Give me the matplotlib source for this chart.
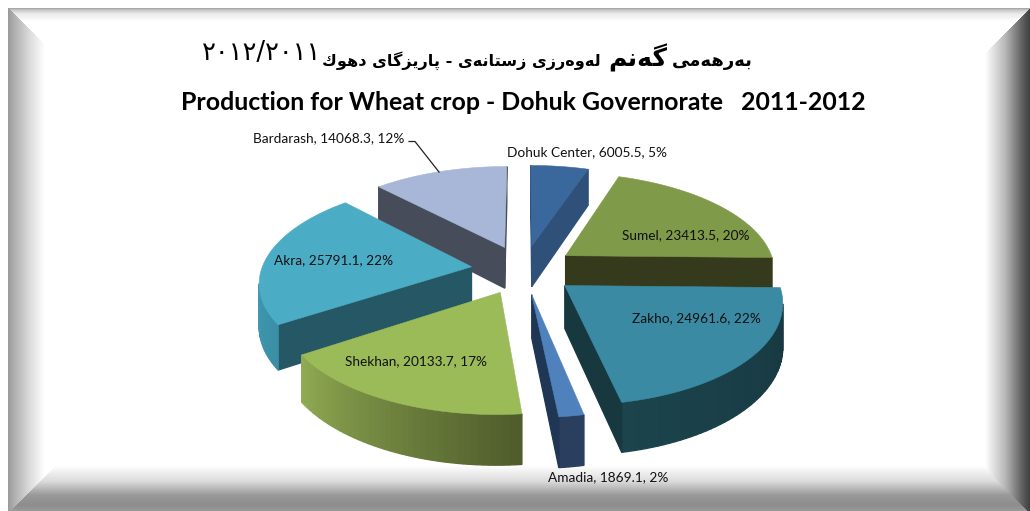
import numpy as np
import matplotlib
matplotlib.use("Agg")
import matplotlib.pyplot as plt
from matplotlib.patches import Polygon
from matplotlib.colors import to_rgb

# ---- data ----
districts = ["Dohuk Center", "Sumel", "Zakho", "Amadia", "Shekhan", "Akra", "Bardarash"]
production = [6005.5, 23413.5, 24961.6, 1869.1, 20133.7, 25791.1, 14068.3]
percent_labels = ["5%", "20%", "22%", "2%", "17%", "22%", "12%"]
top_colors = ["#3B689C", "#7F9A48", "#3A8AA3", "#4F81BD", "#9BBB59", "#4BACC6", "#A8B7D7"]
radial_colors = ["#2E5079", "#363A1C", "#17383F", "#1F3655", "#4F5C2B", "#265764", "#464C59"]
arc_start_colors = ["#2E5079", "#363A1C", "#17363F", "#2A3E5E", "#4F5C2B", "#3A8FA6", "#464C59"]
arc_end_colors = ["#2E5079", "#363A1C", "#1B444D", "#2A3E5E", "#8FAA52", "#4BACC6", "#464C59"]
title_en = "Production for Wheat crop - Dohuk Governorate   2011-2012"
title_ku_a = "بەرهەمی"
title_ku_b = "گەنم"
title_ku_c = "لەوەرزی زستانەی - پارێزگای دهوك"
title_ku_d = "٢٠١٢/٢٠١١"

plt.rcParams["font.family"] = ["Lato", "DejaVu Sans"]

# ---- small shaper: logical Kurdish text -> presentation forms in visual order ----
FORMS = {
    "ب": "\uFE8F\uFE90\uFE91\uFE92", "پ": "\uFB56\uFB57\uFB58\uFB59",
    "ت": "\uFE95\uFE96\uFE97\uFE98", "س": "\uFEB1\uFEB2\uFEB3\uFEB4",
    "ک": "\uFED9\uFEDA\uFEDB\uFEDC", "ك": "\uFED9\uFEDA\uFEDB\uFEDC",
    "گ": "\uFB92\uFB93\uFB94\uFB95", "ل": "\uFEDD\uFEDE\uFEDF\uFEE0",
    "م": "\uFEE1\uFEE2\uFEE3\uFEE4", "ن": "\uFEE5\uFEE6\uFEE7\uFEE8",
    "ه": "\uFEE9\uFEEA\uFEEB\uFEEC", "ی": "\uFBFC\uFBFD\uFBFE\uFBFF",
    "ێ": "\uFBFC\uFBFD\uFBFE\uFBFF",
    "ا": "\uFE8D\uFE8E", "د": "\uFEA9\uFEAA", "ر": "\uFEAD\uFEAE",
    "ز": "\uFEAF\uFEB0", "و": "\uFEED\uFEEE", "ە": "\uFEE9\uFEEA",
}


def shape(text):
    out = []
    for i, ch in enumerate(text):
        forms = FORMS.get(ch)
        if forms is None:
            out.append(ch)
            continue
        prev = text[i - 1] if i else ""
        nxt = text[i + 1] if i + 1 < len(text) else ""
        joins_prev = prev in FORMS and len(FORMS[prev]) == 4
        joins_next = nxt in FORMS and len(forms) == 4
        if joins_prev and joins_next:
            out.append(forms[3])
        elif joins_next:
            out.append(forms[2])
        elif joins_prev:
            out.append(forms[1])
        else:
            out.append(forms[0])
    return "".join(reversed(out))


W, H = 1030, 511
fig = plt.figure(figsize=(W / 100, H / 100), dpi=100, facecolor="white")
ax = fig.add_axes([0, 0, 1, 1])
ax.set_xlim(0, W)
ax.set_ylim(H, 0)
ax.axis("off")

# ---- bevelled frame ----
x0, y0 = 8, 8
yy, xx = np.mgrid[0:H, 0:W] + 0.5
dl, dt, dr, db = xx - x0, yy - y0, W - xx, H + 2 - yy
left = np.interp(dl, [0, 6, 20, 37], [0.60, 0.68, 0.84, 1.0])
top = np.interp(dt, [0, 2, 6, 14, 37], [0.62, 0.78, 0.92, 1.0, 1.0])
right = np.interp(dr, [0, 8, 25, 45], [0.25, 0.38, 0.72, 1.0])
bottom = np.interp(db, [0, 8, 18, 32, 48], [0.62, 0.55, 0.60, 0.86, 1.0])
nearest = np.argmin(np.stack([dl, dt, dr, db]), axis=0)
img = np.choose(nearest, [left, top, right, bottom])
img[(xx < x0) | (yy < y0)] = 1.0
ax.imshow(img, cmap="gray", vmin=0, vmax=1, extent=(0, W, H, 0), aspect="auto",
          interpolation="nearest", zorder=0)
ax.set_xlim(0, W)
ax.set_ylim(H, 0)

# ---- pie projection ----
CX, CY, RX, RY, PERSP, EXPLODE, THICK = 523.5, 269.5, 210, 98, 0.14, 0.25, 42


def project(px, py, down=0.0):
    w = 1 / (1 + PERSP * py)
    return CX + RX * px * w, CY - RY * py * w + THICK * down * w


vals = np.array(production)
edges = np.concatenate([[0], np.cumsum(vals)]) / vals.sum() * 2 * np.pi
z = 10
for i in [0, 6, 1, 5, 2, 4, 3]:
    a0, a1 = edges[i], edges[i + 1]
    mid = (a0 + a1) / 2
    ox, oy = EXPLODE * np.sin(mid), EXPLODE * np.cos(mid)
    ang = np.linspace(a0, a1, max(int((a1 - a0) * 40), 6))
    wx = np.concatenate([[ox], ox + np.sin(ang)])
    wy = np.concatenate([[oy], oy + np.cos(ang)])
    tx, ty = project(wx, wy)
    bx, by = project(wx, wy, 1.0)
    n = len(wx)
    c0, c1 = np.array(to_rgb(arc_start_colors[i])), np.array(to_rgb(arc_end_colors[i]))
    for k in range(n):
        m = (k + 1) % n
        if tx[m] >= tx[k]:
            continue
        if k == 0 or k == n - 1:
            col = radial_colors[i]
        else:
            col = tuple(c0 + (c1 - c0) * (k - 1) / max(n - 3, 1))
        ax.add_patch(Polygon([(tx[k], ty[k]), (tx[m], ty[m]), (bx[m], by[m]), (bx[k], by[k])],
                             closed=True, fc=col, ec=col, lw=0.9, zorder=z))
    ax.add_patch(Polygon(np.column_stack([tx, ty]), closed=True, fc=top_colors[i],
                         ec=top_colors[i], lw=0.4, zorder=z + 1))
    z += 2

# ---- data labels ----
label_xy = [(587, 152), (686, 235), (696, 318), (608, 477), (416, 361), (334, 260), (329, 138)]
for name, v, pct, (lx, ly) in zip(districts, production, percent_labels, label_xy):
    ax.text(lx, ly, f"{name}, {v}, {pct}", ha="center", va="center", fontsize=9.8,
            color="#111111", zorder=50)
ax.plot([409, 415, 439], [141.5, 141.5, 172], color="#222222", lw=0.9, zorder=50)

# ---- titles ----
ax.text(523, 103, title_en, ha="center", va="center", fontsize=17.95, fontweight="bold",
        color="black", zorder=50)
AR = ["DejaVu Sans"]
ax.text(753, 61, shape(title_ku_a), ha="right", va="center", family=AR, fontweight="bold",
        fontsize=13, color="black", zorder=50)
ax.text(667, 58, shape(title_ku_b), ha="right", va="center", family=AR, fontweight="bold",
        fontsize=18, color="black", zorder=50)
ax.text(601, 61, shape(title_ku_c), ha="right", va="center", family=AR, fontweight="bold",
        fontsize=11.6, color="black", zorder=50)
ax.text(202, 53, title_ku_d, ha="left", va="center", family=AR, fontsize=18.5,
        color="black", zorder=50)

fig.savefig("out.png", dpi=100, facecolor="white")
